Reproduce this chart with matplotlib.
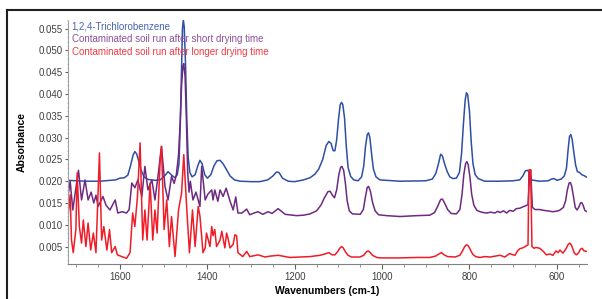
import matplotlib
matplotlib.use("Agg")
import matplotlib.pyplot as plt
from matplotlib.lines import Line2D
from matplotlib.ticker import MultipleLocator, FormatStrFormatter

plt.rcParams['font.family'] = ['Liberation Sans', 'DejaVu Sans']

# 1,2,4-Trichlorobenzene
wn_tcb = [1719, 1680, 1646, 1610, 1600, 1590, 1582, 1576, 1570, 1566,
          1562, 1557, 1552, 1545, 1536, 1520, 1508, 1498, 1490, 1482,
          1474, 1469, 1465, 1462, 1459, 1457, 1455, 1453, 1450, 1447,
          1444, 1440, 1435, 1428, 1422, 1417, 1412, 1406, 1400, 1392,
          1385, 1378, 1371, 1364, 1357, 1348, 1338, 1325, 1300, 1280,
          1262, 1250, 1242, 1236, 1228, 1215, 1200, 1180, 1165, 1154,
          1145, 1136, 1128, 1122, 1117, 1112, 1108, 1104, 1100, 1096,
          1093, 1090, 1086, 1082, 1078, 1072, 1065, 1055, 1047, 1042,
          1038, 1034, 1031, 1028, 1024, 1020, 1014, 1005, 959, 900,
          885, 877, 871, 866, 862, 857, 851, 845, 838, 830,
          823, 818, 814, 810, 807, 804, 800, 796, 792, 787,
          780, 765, 730, 700, 685, 678, 672, 667, 662, 658,
          640, 620, 612, 606, 600, 590, 583, 578, 574, 571,
          568, 565, 561, 557, 553, 548, 543, 538, 531]
abs_tcb = [.0202, .0200, .0200, .0203, .0207, .0208, .0214, .0235, .0260, .0268,
           .0263, .0246, .0226, .0210, .0204, .0202, .0203, .0212, .0222, .0214,
           .0208, .0215, .0240, .0330, .0460, .0550, .0570, .0555, .0470, .0340,
           .0255, .0220, .0210, .0215, .0235, .0248, .0240, .0215, .0207, .0215,
           .0235, .0247, .0248, .0240, .0228, .0212, .0203, .0200, .0199, .0199,
           .0203, .0212, .0221, .0220, .0207, .0200, .0199, .0203, .0208, .0216,
           .0228, .0250, .0282, .0291, .0287, .0270, .0270, .0295, .0340, .0375,
           .0381, .0376, .0345, .0280, .0232, .0211, .0203, .0201, .0210, .0235,
           .0280, .0307, .0311, .0300, .0262, .0228, .0210, .0203, .0200, .0201,
           .0205, .0218, .0240, .0262, .0258, .0240, .0222, .0210, .0206, .0207,
           .0220, .0265, .0330, .0385, .0403, .0398, .0360, .0290, .0240, .0215,
           .0206, .0200, .0200, .0201, .0203, .0212, .0224, .0225, .0218, .0203,
           .0200, .0201, .0205, .0206, .0202, .0205, .0212, .0230, .0275, .0303,
           .0307, .0296, .0265, .0237, .0222, .0220, .0215, .0213, .0209]

# soil, short drying time
wn_short = [1719, 1714, 1708, 1703, 1695, 1688, 1680, 1673, 1666, 1660,
            1655, 1650, 1639, 1632, 1623, 1611, 1605, 1595, 1585, 1579,
            1573, 1566, 1559, 1550, 1543, 1536, 1527, 1520, 1513, 1505,
            1497, 1490, 1482, 1476, 1471, 1466, 1462, 1459, 1456, 1454,
            1451, 1448, 1445, 1442, 1439, 1433, 1426, 1417, 1413, 1405,
            1399, 1390, 1387, 1383, 1376, 1371, 1364, 1357, 1348, 1341,
            1335, 1330, 1321, 1310, 1303, 1293, 1284, 1273, 1261, 1252,
            1238, 1222, 1196, 1180, 1165, 1150, 1140, 1132, 1124, 1119,
            1114, 1109, 1104, 1099, 1095, 1092, 1088, 1084, 1080, 1075,
            1068, 1050, 1043, 1038, 1034, 1031, 1027, 1022, 1016, 1008,
            990, 959, 920, 891, 880, 873, 866, 862, 857, 850,
            842, 830, 822, 817, 813, 809, 806, 803, 799, 795,
            790, 783, 776, 768, 760, 752, 742, 735, 730, 722,
            715, 708, 700, 693, 685, 678, 673, 666, 662, 660,
            656, 650, 639, 630, 621, 610, 602, 594, 585, 580,
            576, 572, 569, 566, 562, 558, 554, 550, 546, 543,
            540, 536, 531]
abs_short = [.0165, .0200, .0134, .0170, .0225, .0157, .0203, .0157, .0175, .0150,
             .0168, .0142, .0165, .0145, .0134, .0157, .0127, .0130, .0127, .0135,
             .0196, .0185, .0203, .0165, .0234, .0180, .0203, .0157, .0211, .0280,
             .0188, .0157, .0211, .0195, .0215, .0260, .0340, .0420, .0465, .0470,
             .0440, .0340, .0220, .0175, .0200, .0157, .0175, .0142, .0234, .0157,
             .0170, .0180, .0157, .0180, .0154, .0180, .0165, .0184, .0154, .0134,
             .0164, .0127, .0127, .0136, .0123, .0127, .0130, .0124, .0130, .0126,
             .0137, .0124, .0121, .0122, .0125, .0132, .0145, .0162, .0176, .0177,
             .0168, .0162, .0180, .0215, .0232, .0234, .0225, .0195, .0155, .0132,
             .0125, .0124, .0135, .0165, .0186, .0188, .0178, .0152, .0132, .0123,
             .0121, .0119, .0121, .0122, .0128, .0142, .0158, .0159, .0150, .0135,
             .0126, .0125, .0135, .0170, .0215, .0240, .0245, .0238, .0210, .0170,
             .0145, .0133, .0130, .0128, .0127, .0129, .0127, .0131, .0128, .0132,
             .0127, .0133, .0131, .0137, .0138, .0141, .0143, .0146, .0220, .0226,
             .0140, .0135, .0135, .0133, .0132, .0130, .0131, .0133, .0140, .0155,
             .0180, .0196, .0197, .0188, .0165, .0140, .0134, .0140, .0150, .0151,
             .0145, .0133, .0130]

# soil, longer drying time
wn_long = [1719, 1714, 1711, 1707, 1701, 1698, 1693, 1688, 1684, 1678,
           1673, 1667, 1661, 1655, 1647, 1642, 1637, 1630, 1624, 1619,
           1611, 1606, 1596, 1585, 1577, 1571, 1566, 1560, 1554, 1548,
           1543, 1538, 1531, 1525, 1520, 1515, 1508, 1505, 1499, 1493,
           1487, 1482, 1474, 1466, 1459, 1454, 1447, 1441, 1434, 1428,
           1421, 1417, 1410, 1405, 1402, 1394, 1390, 1387, 1383, 1379,
           1371, 1367, 1360, 1356, 1353, 1348, 1341, 1337, 1333, 1330,
           1319, 1310, 1303, 1284, 1268, 1257, 1238, 1211, 1165, 1142,
           1128, 1122, 1114, 1108, 1102, 1097, 1093, 1089, 1084, 1078,
           1070, 1051, 1042, 1036, 1032, 1028, 1022, 1012, 1005, 959,
           920, 891, 878, 870, 864, 858, 850, 833, 822, 816,
           811, 807, 803, 799, 793, 786, 776, 765, 753, 742,
           730, 719, 708, 700, 696, 690, 685, 678, 673, 668,
           666, 664, 660, 657, 652, 648, 639, 632, 624, 616,
           609, 602, 597, 593, 586, 579, 574, 570, 566, 560,
           555, 550, 546, 542, 538, 532]
abs_long = [.0120, .0169, .0065, .0036, .0089, .0219, .0096, .0058, .0111, .0050,
            .0104, .0042, .0081, .0036, .0265, .0065, .0096, .0042, .0089, .0036,
            .0050, .0031, .0027, .0023, .0036, .0127, .0096, .0165, .0288, .0065,
            .0134, .0065, .0196, .0065, .0134, .0081, .0250, .0280, .0089, .0157,
            .0050, .0119, .0027, .0134, .0173, .0261, .0134, .0036, .0134, .0050,
            .0142, .0120, .0036, .0047, .0081, .0050, .0096, .0075, .0089, .0050,
            .0065, .0085, .0047, .0081, .0070, .0047, .0055, .0077, .0075, .0036,
            .0027, .0039, .0027, .0031, .0026, .0028, .0030, .0025, .0027, .0030,
            .0034, .0036, .0031, .0031, .0038, .0046, .0050, .0047, .0038, .0030,
            .0026, .0026, .0030, .0038, .0040, .0037, .0030, .0025, .0024, .0024,
            .0025, .0025, .0028, .0033, .0036, .0031, .0027, .0026, .0030, .0040,
            .0050, .0054, .0052, .0045, .0033, .0027, .0025, .0027, .0026, .0028,
            .0030, .0026, .0034, .0031, .0030, .0040, .0045, .0047, .0050, .0053,
            .0054, .0226, .0226, .0050, .0046, .0048, .0046, .0040, .0031, .0033,
            .0030, .0040, .0036, .0042, .0035, .0045, .0055, .0058, .0052, .0035,
            .0031, .0036, .0044, .0046, .0040, .0039]

labels = ["1,2,4-Trichlorobenzene",
          "Contaminated soil run after short drying time",
          "Contaminated soil run after longer drying time"]
line_colors = ["#2f4fa6", "#6e2a80", "#f01c28"]
text_colors = ["#4a64b4", "#8c4f99", "#f03a44"]

fig = plt.figure(figsize=(6.02, 2.99), dpi=100)
ax = fig.add_axes([68 / 602, 1 - 264 / 299, 519 / 602, 244 / 299])

series = [(wn_tcb, abs_tcb), (wn_short, abs_short), (wn_long, abs_long)]
for (x, y), c in zip(series, line_colors):
    ax.plot(x, y, color=c, lw=1.1, solid_joinstyle='round')

ax.set_xlim(1719, 531)
ax.set_ylim(0.0010, 0.0570)

ax.xaxis.set_major_locator(MultipleLocator(200))
ax.xaxis.set_minor_locator(MultipleLocator(50))
ax.yaxis.set_major_locator(MultipleLocator(0.005))
ax.yaxis.set_major_formatter(FormatStrFormatter('%.3f'))
ax.yaxis.set_minor_locator(MultipleLocator(0.001))

for s in ['top', 'right']:
    ax.spines[s].set_visible(False)
ax.spines['bottom'].set_color('#808080')
ax.spines['left'].set_color('#a0a0a0')
ax.spines['left'].set_linestyle((0, (1, 1)))
ax.tick_params(axis='x', which='major', length=3.5, width=0.8, color='#606060',
               labelsize=7, labelcolor='#404040', pad=2.5)
ax.tick_params(axis='x', which='minor', length=2, width=0.6, color='#808080')
ax.tick_params(axis='y', which='major', length=2.5, width=0.8, color='#606060',
               labelsize=7, labelcolor='#404040', pad=1)
ax.tick_params(axis='y', which='minor', length=1, width=0.5, color='#a0a0a0')

for i, (lab, tc) in enumerate(zip(labels, text_colors)):
    ax.text(0.007, 0.975 - i * 0.0525, lab, transform=ax.transAxes,
            color=tc, fontsize=7, ha='left', va='center')

fig.text(22 / 602, 1 - 142 / 299, "Absorbance", rotation=90, ha='center',
         va='center', fontsize=7.5, fontweight='bold')
fig.text(327 / 602, 1 - 291 / 299, "Wavenumbers (cm-1)", ha='center',
         va='center', fontsize=7.5, fontweight='bold')

# outer frame (top and left edge visible)
fig.add_artist(Line2D([0.0111, 1.0], [1 - 10 / 299, 1 - 10 / 299],
                      transform=fig.transFigure, color='#202020', lw=1.5))
fig.add_artist(Line2D([0.0111, 0.0111], [0.0, 1 - 10 / 299],
                      transform=fig.transFigure, color='#202020', lw=1.5))

fig.savefig("out.png", dpi=100)
